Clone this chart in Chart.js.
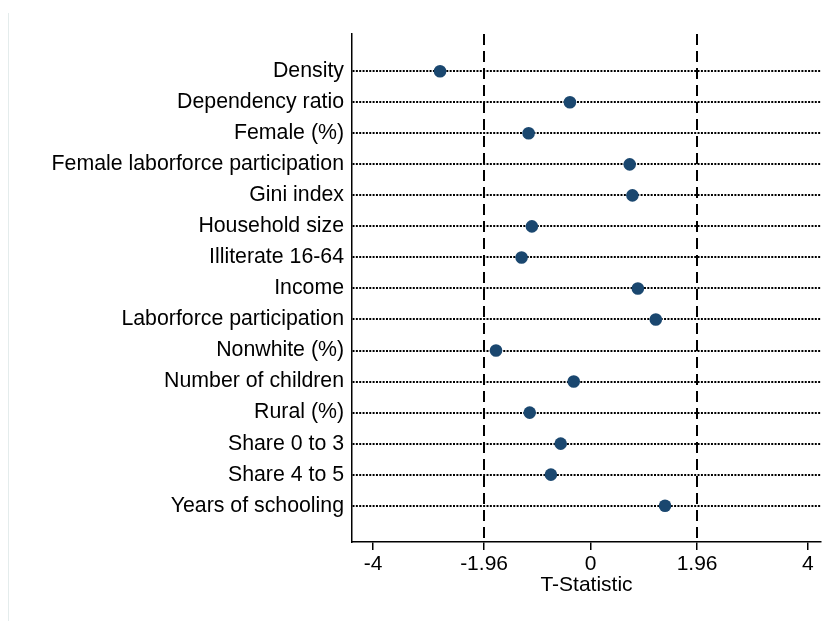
<!DOCTYPE html>
<html>
<head>
<meta charset="utf-8">
<script src="https://cdn.jsdelivr.net/npm/chart.js@4.4.1/dist/chart.umd.min.js"></script>
<style>
html,body{margin:0;padding:0;background:#fff;}
#wrap{position:relative;width:823px;height:621px;}
</style>
</head>
<body>
<div id="wrap"><canvas id="c" width="823" height="621"></canvas></div>
<script>
const categories = [
  "Density",
  "Dependency ratio",
  "Female (%)",
  "Female laborforce participation",
  "Gini index",
  "Household size",
  "Illiterate 16-64",
  "Income",
  "Laborforce participation",
  "Nonwhite (%)",
  "Number of children",
  "Rural (%)",
  "Share 0 to 3",
  "Share 4 to 5",
  "Years of schooling"
];
const tStats = [-2.77, -0.38, -1.14, 0.72, 0.77, -1.08, -1.27, 0.87, 1.20, -1.74, -0.31, -1.12, -0.55, -0.73, 1.37];
const xTickValues = [-4, -1.96, 0, 1.96, 4];
const criticalValues = [-1.96, 1.96];
const xTitle = "T-Statistic";

const FONT = "'Liberation Sans', Arial, sans-serif";
const NAVY = "#1a476f";

const points = categories.map((c, i) => ({x: tStats[i], y: i + 1}));

const refLines = {
  id: 'refLines',
  beforeDatasetsDraw(chart) {
    const {ctx, chartArea, scales} = chart;
    ctx.save();
    ctx.strokeStyle = '#000';
    ctx.lineWidth = 2;
    ctx.setLineDash([11, 6]);
    criticalValues.forEach(v => {
      const px = Math.round(scales.x.getPixelForValue(v));
      ctx.beginPath();
      ctx.moveTo(px, chartArea.top);
      ctx.lineTo(px, chartArea.bottom);
      ctx.stroke();
    });
    ctx.restore();
  }
};

const frame = {
  id: 'frame',
  beforeDraw(chart) {
    const ctx = chart.ctx;
    ctx.save();
    ctx.fillStyle = '#fff';
    ctx.fillRect(0, 0, chart.width, chart.height);
    ctx.strokeStyle = '#e4ecec';
    ctx.lineWidth = 1;
    ctx.beginPath();
    ctx.moveTo(8.5, 13);
    ctx.lineTo(8.5, chart.height);
    ctx.stroke();
    ctx.restore();
  }
};

new Chart(document.getElementById('c'), {
  type: 'scatter',
  data: {
    datasets: [{
      data: points,
      backgroundColor: NAVY,
      borderColor: NAVY,
      pointRadius: 6.3,
      pointHoverRadius: 6.3,
      borderWidth: 0
    }]
  },
  options: {
    responsive: false,
    animation: false,
    devicePixelRatio: 1,
    layout: {autoPadding: false, padding: {top: 34, right: 2, bottom: 0, left: 0}},
    plugins: {legend: {display: false}, tooltip: {enabled: false}},
    scales: {
      x: {
        type: 'linear',
        min: -4.39,
        max: 4.24,
        afterBuildTicks(scale) { scale.ticks = xTickValues.map(v => ({value: v})); },
        afterFit(scale) { scale.height = 79; scale.paddingLeft = 0; scale.paddingRight = 0; },
        ticks: {
          color: '#000',
          font: {family: FONT, size: 21},
          padding: 2,
          maxRotation: 0,
          autoSkip: false,
          callback: v => String(v)
        },
        grid: {
          display: true,
          drawOnChartArea: false,
          drawTicks: true,
          tickLength: 8,
          color: '#000',
          lineWidth: 1.5
        },
        border: {display: true, color: '#000', width: 1.5},
        title: {
          display: true,
          text: xTitle,
          color: '#000',
          font: {family: FONT, size: 21},
          padding: {top: 0, bottom: 23}
        }
      },
      y: {
        type: 'linear',
        reverse: true,
        min: -0.2,
        max: 16.17,
        afterBuildTicks(scale) { scale.ticks = categories.map((c, i) => ({value: i + 1})); },
        afterFit(scale) { scale.width = 352; scale.paddingTop = 0; scale.paddingBottom = 0; },
        ticks: {
          color: '#000',
          font: {family: FONT, size: 21.3},
          padding: 8,
          autoSkip: false,
          callback: v => categories[v - 1] || ''
        },
        grid: {
          display: true,
          drawOnChartArea: true,
          drawTicks: false,
          color: '#000',
          lineWidth: 2
        },
        border: {display: true, color: '#000', width: 1.5, dash: [2, 1.35]}
      }
    }
  },
  plugins: [frame, refLines]
});
</script>
</body>
</html>
